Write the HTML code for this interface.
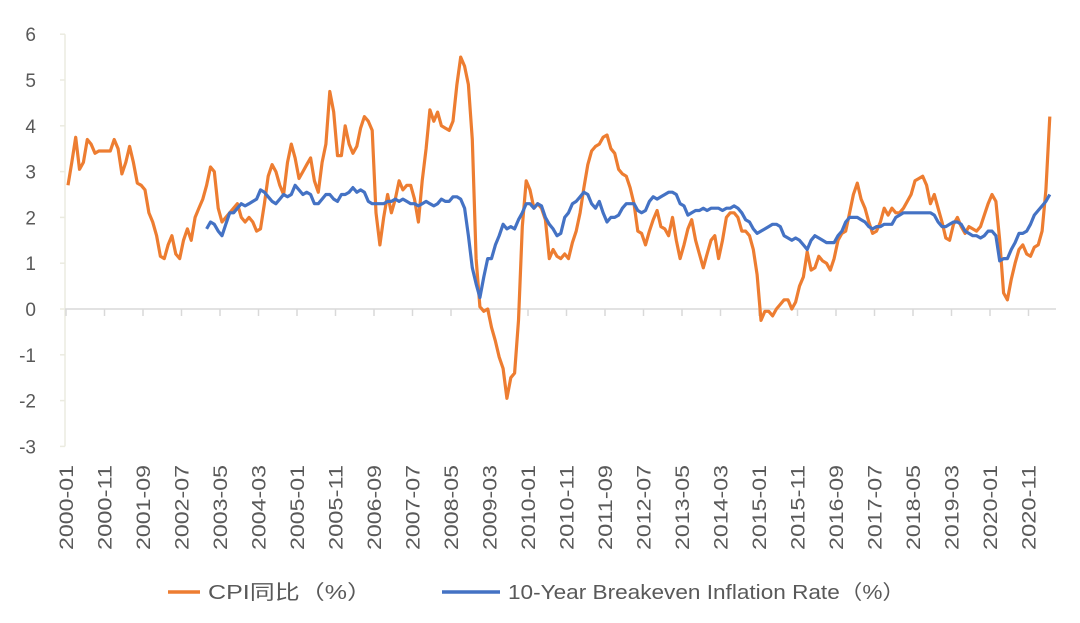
<!DOCTYPE html>
<html><head><meta charset="utf-8"><style>
body{margin:0;background:#fff;}
svg text{font-family:"Liberation Sans","Noto Sans CJK SC",sans-serif;fill:#595959;}
</style></head><body>
<svg id="chart" width="1080" height="618" xmlns="http://www.w3.org/2000/svg">
<g id="axes"></g>
<g id="series"></g>
<g>
<line x1="168" y1="592" x2="200" y2="592" stroke="#ED7D31" stroke-width="3.5"/>
<text x="208" y="599" font-size="20" textLength="164" lengthAdjust="spacingAndGlyphs">CPI同比（%）</text>
<line x1="442" y1="592" x2="500" y2="592" stroke="#4472C4" stroke-width="3.5"/>
<text x="508" y="599" font-size="20" textLength="397" lengthAdjust="spacingAndGlyphs">10-Year Breakeven Inflation Rate（%）</text>
</g>
</svg>
<script>
const yTicks=[6,5,4,3,2,1,0,-1,-2,-3];
const xLabels=["2000-01","2000-11","2001-09","2002-07","2003-05","2004-03","2005-01","2005-11","2006-09","2007-07","2008-05","2009-03","2010-01","2010-11","2011-09","2012-07","2013-05","2014-03","2015-01","2015-11","2016-09","2017-07","2018-05","2019-03","2020-01","2020-11"];
const cpi=[2.7,3.2,3.75,3.05,3.2,3.7,3.6,3.4,3.45,3.45,3.45,3.45,
3.7,3.5,2.95,3.2,3.55,3.2,2.75,2.7,2.6,2.1,1.9,1.6,
1.15,1.1,1.4,1.6,1.2,1.1,1.5,1.75,1.5,2.0,2.2,2.4,
2.7,3.1,3.0,2.2,1.9,2.0,2.1,2.2,2.3,2.0,1.9,2.0,
1.9,1.7,1.75,2.3,2.9,3.15,3.0,2.7,2.5,3.2,3.6,3.3,
2.85,3.0,3.15,3.3,2.8,2.55,3.2,3.6,4.75,4.3,3.35,3.35,
4.0,3.6,3.4,3.55,3.95,4.2,4.1,3.9,2.1,1.4,2.0,2.5,
2.1,2.4,2.8,2.6,2.7,2.7,2.4,1.9,2.8,3.5,4.35,4.1,
4.3,4.0,3.95,3.9,4.1,4.9,5.5,5.3,4.9,3.7,1.1,0.05,
-0.05,0.0,-0.4,-0.7,-1.05,-1.3,-1.95,-1.5,-1.4,-0.25,1.8,2.8,
2.6,2.2,2.3,2.2,1.95,1.1,1.3,1.15,1.1,1.2,1.1,1.45,
1.7,2.1,2.65,3.15,3.45,3.55,3.6,3.75,3.8,3.5,3.4,3.05,
2.95,2.9,2.65,2.3,1.7,1.65,1.4,1.7,1.95,2.15,1.8,1.75,
1.6,2.0,1.5,1.1,1.4,1.75,1.95,1.5,1.2,0.9,1.2,1.5,
1.6,1.1,1.5,2.0,2.1,2.1,2.0,1.7,1.7,1.6,1.3,0.75,
-0.25,-0.05,-0.05,-0.15,0.0,0.1,0.2,0.2,0.0,0.15,0.5,0.7,
1.25,0.85,0.9,1.15,1.05,1.0,0.85,1.1,1.5,1.65,1.7,2.1,
2.5,2.75,2.4,2.2,1.9,1.65,1.7,1.9,2.2,2.05,2.2,2.1,
2.1,2.2,2.35,2.5,2.8,2.85,2.9,2.7,2.3,2.5,2.2,1.9,
1.55,1.5,1.85,2.0,1.8,1.65,1.8,1.75,1.7,1.8,2.05,2.3,
2.5,2.35,1.5,0.35,0.2,0.65,1.0,1.3,1.4,1.2,1.15,1.35,
1.4,1.7,2.6,4.2];
const bei=[1.75,1.9,1.85,1.7,1.6,1.85,2.1,2.1,2.2,2.3,2.25,2.3,
2.35,2.4,2.6,2.55,2.45,2.35,2.3,2.4,2.5,2.45,2.5,2.7,
2.6,2.5,2.55,2.5,2.3,2.3,2.4,2.5,2.5,2.4,2.35,2.5,
2.5,2.55,2.65,2.55,2.6,2.55,2.35,2.3,2.3,2.3,2.3,2.35,
2.35,2.4,2.35,2.4,2.35,2.3,2.3,2.25,2.3,2.35,2.3,2.25,
2.3,2.4,2.35,2.35,2.45,2.45,2.4,2.2,1.6,0.9,0.55,0.25,
0.7,1.1,1.1,1.4,1.6,1.85,1.75,1.8,1.75,1.95,2.1,2.3,
2.3,2.2,2.3,2.25,2.0,1.85,1.75,1.6,1.65,2.0,2.1,2.3,
2.35,2.45,2.55,2.5,2.3,2.2,2.35,2.1,1.9,2.0,2.0,2.05,
2.2,2.3,2.3,2.3,2.15,2.1,2.15,2.35,2.45,2.4,2.45,2.5,
2.55,2.55,2.5,2.3,2.25,2.05,2.1,2.15,2.15,2.2,2.15,2.2,
2.2,2.2,2.15,2.2,2.2,2.25,2.2,2.1,1.95,1.9,1.75,1.65,
1.7,1.75,1.8,1.85,1.85,1.8,1.6,1.55,1.5,1.55,1.5,1.4,
1.3,1.5,1.6,1.55,1.5,1.45,1.45,1.45,1.6,1.7,1.9,2.0,
2.0,2.0,1.95,1.9,1.8,1.75,1.8,1.8,1.85,1.85,1.85,2.0,
2.05,2.1,2.1,2.1,2.1,2.1,2.1,2.1,2.1,2.05,1.9,1.8,
1.8,1.85,1.9,1.9,1.85,1.7,1.65,1.6,1.6,1.55,1.6,1.7,
1.7,1.6,1.05,1.1,1.1,1.3,1.45,1.65,1.65,1.7,1.85,2.05,
2.15,2.25,2.35,2.5];
const beiStart=36;
const NS="http://www.w3.org/2000/svg";
const X0=68,DX=3.85;
function xs(i){return X0+i*DX;}
function ys(v){return 309-v*45.8;}
const axes=document.getElementById('axes');
function mk(tag,attrs,parent){const e=document.createElementNS(NS,tag);for(const k in attrs)e.setAttribute(k,attrs[k]);parent.appendChild(e);return e;}
const va=mk('line',{x1:65,y1:ys(6),x2:65,y2:ys(-3),stroke:'#EBEBE0','stroke-width':1.5},axes);


yTicks.forEach(t=>{
 const tk=mk('line',{x1:60,y1:ys(t),x2:65,y2:ys(t),stroke:'#EBEBE0','stroke-width':1.5},axes);
 
 
 const tx=mk('text',{x:36,y:ys(t)+7,'font-size':19,'text-anchor':'end'},axes);
 tx.textContent=t;
 
 
});
const ha=mk('line',{x1:65,y1:ys(0),x2:1056,y2:ys(0),stroke:'#D9D9D9','stroke-width':1.5},axes);


xLabels.forEach((l,k)=>{
 const x=xs(k*10)-2;
 const tk=mk('line',{x1:x,y1:ys(0),x2:x,y2:ys(0)+7,stroke:'#D9D9D9','stroke-width':1.5},axes);
 
 
 const tx=mk('text',{x:0,y:0,'font-size':19,'text-anchor':'end',textLength:85,lengthAdjust:'spacingAndGlyphs',transform:`translate(${x+7},465) rotate(-90)`},axes);
 tx.textContent=l;
 
 
});
const ser=document.getElementById('series');
const p1=mk('path',{d:cpi.map((v,i)=>(i?'L':'M')+xs(i).toFixed(1)+','+ys(v).toFixed(1)).join(''),fill:'none',stroke:'#ED7D31','stroke-width':3.2,'stroke-linejoin':'round'},ser);


const p2=mk('path',{d:bei.map((v,i)=>(i?'L':'M')+xs(i+beiStart).toFixed(1)+','+ys(v).toFixed(1)).join(''),fill:'none',stroke:'#4472C4','stroke-width':3.2,'stroke-linejoin':'round'},ser);


</script>
</body></html>
